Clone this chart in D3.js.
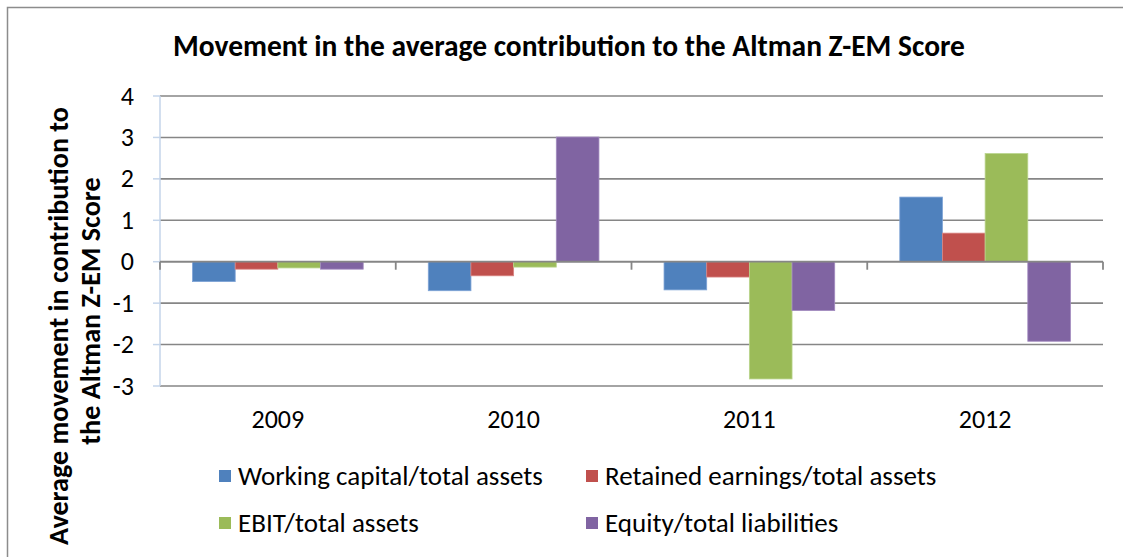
<!DOCTYPE html>
<html>
<head>
<meta charset="utf-8">
<script src="https://cdn.jsdelivr.net/npm/d3@7"></script>
<style>
  body { margin: 0; background: #fff; }
  text { font-family: Carlito, Calibri, Lato, sans-serif; fill: #000; }
</style>
</head>
<body>
<div id="chart"></div>
<script>
// data
const years = ["2009", "2010", "2011", "2012"];
const seriesNames = ["Working capital/total assets", "Retained earnings/total assets", "EBIT/total assets", "Equity/total liabilities"];
const workingCapital = [-0.48, -0.70, -0.68, 1.56];
const retainedEarnings = [-0.18, -0.34, -0.37, 0.69];
const ebit = [-0.15, -0.13, -2.83, 2.61];
const equity = [-0.18, 3.01, -1.18, -1.92];
const yTicks = [-3, -2, -1, 0, 1, 2, 3, 4];
const colors = ["#4F81BD", "#C0504D", "#9BBB59", "#8064A2"];
const strokes = ["#7ea3d6", "#d98583", "#b9d48c", "#a38cc0"];

const allSeries = [workingCapital, retainedEarnings, ebit, equity];

// scale the text so it spans about the same width as the original
function fitWidth(sel, w) {
    const len = sel.node().getComputedTextLength();
    const fs = parseFloat(sel.style("font-size"));
    sel.style("font-size", (fs * w / len) + "px");
    return fs * w / len;
}

const W = 1123, H = 557;
const svg = d3.select("#chart").append("svg")
    .attr("width", W).attr("height", H);

// chart frame
svg.append("rect")
    .attr("x", 7.5).attr("y", 7.5)
    .attr("width", 1200).attr("height", 600)
    .attr("fill", "#fff")
    .attr("stroke", "#8c8c8c")
    .attr("stroke-width", 1.5);

const plot = { left: 160, right: 1103, top: 96, bottom: 386 };

// scales
const x0 = d3.scaleBand().domain(years).range([plot.left, plot.right]).padding(0);
const bw = x0.bandwidth();
const gap = bw * 0.276;
const x1 = d3.scaleBand().domain(d3.range(seriesNames.length)).range([gap / 2, bw - gap / 2]).padding(0);
const y = d3.scaleLinear().domain([-3, 4]).range([plot.bottom, plot.top]);

// gridlines
svg.append("g")
    .selectAll("line")
    .data(yTicks)
    .enter().append("line")
    .attr("x1", plot.left).attr("x2", plot.right)
    .attr("y1", d => y(d)).attr("y2", d => y(d))
    .attr("stroke", "#868686")
    .attr("stroke-width", 1.6);

// y axis (light line with ticks pointing left)
svg.append("line")
    .attr("x1", plot.left).attr("x2", plot.left)
    .attr("y1", plot.top).attr("y2", plot.bottom)
    .attr("stroke", "#c5d5ea").attr("stroke-width", 1.5);
svg.append("g")
    .selectAll("line")
    .data(yTicks)
    .enter().append("line")
    .attr("x1", plot.left - 7).attr("x2", plot.left)
    .attr("y1", d => y(d)).attr("y2", d => y(d))
    .attr("stroke", "#c5d5ea").attr("stroke-width", 1.5);

// y tick labels
svg.append("g")
    .selectAll("text")
    .data(yTicks)
    .enter().append("text")
    .attr("x", 134)
    .attr("y", d => y(d))
    .attr("dy", "0.33em")
    .attr("text-anchor", "end")
    .style("font-size", "26px")
    .text(d => d);

// bars
const groups = svg.append("g")
    .selectAll("g")
    .data(years)
    .enter().append("g")
    .attr("transform", d => "translate(" + x0(d) + ",0)");

groups.selectAll("rect")
    .data((d, i) => allSeries.map((s, k) => ({ k: k, v: s[i] })))
    .enter().append("rect")
    .attr("x", d => x1(d.k))
    .attr("width", x1.bandwidth())
    .attr("y", d => y(Math.max(0, d.v)))
    .attr("height", d => Math.abs(y(d.v) - y(0)))
    .attr("fill", d => colors[d.k])
    .attr("stroke", d => strokes[d.k])
    .attr("stroke-width", 0.8);

// zero axis on top of the bars, with category ticks
svg.append("line")
    .attr("x1", plot.left).attr("x2", plot.right)
    .attr("y1", y(0)).attr("y2", y(0))
    .attr("stroke", "#868686").attr("stroke-width", 1.8);
const boundaries = years.map(d => x0(d)).concat([plot.right]);
svg.append("g")
    .selectAll("line")
    .data(boundaries)
    .enter().append("line")
    .attr("x1", d => d).attr("x2", d => d)
    .attr("y1", y(0)).attr("y2", y(0) + 8)
    .attr("stroke", "#868686").attr("stroke-width", 1.8);

// category labels
svg.append("g")
    .selectAll("text")
    .data(years)
    .enter().append("text")
    .attr("x", d => x0(d) + bw / 2)
    .attr("y", 428)
    .attr("text-anchor", "middle")
    .style("font-size", "26px")
    .text(d => d);

// title
const title = svg.append("text")
    .attr("x", 569).attr("y", 56)
    .attr("text-anchor", "middle")
    .style("font-size", "22px")
    .style("font-weight", "bold")
    .text("Movement in the average contribution to the Altman Z-EM Score");
fitWidth(title, 792);

// y axis title, two lines
const yt1 = svg.append("text")
    .attr("transform", "translate(68,326) rotate(-90)")
    .attr("text-anchor", "middle")
    .style("font-size", "22px")
    .style("font-weight", "bold")
    .text("Average movement in contribution to");
const ytSize = fitWidth(yt1, 438);
svg.append("text")
    .attr("transform", "translate(100,311) rotate(-90)")
    .attr("text-anchor", "middle")
    .style("font-size", ytSize + "px")
    .style("font-weight", "bold")
    .text("the Altman Z-EM Score");

// legend
const legendPos = [[219, 476], [586, 476], [219, 523], [586, 523]];
const legend = svg.append("g")
    .selectAll("g")
    .data(seriesNames)
    .enter().append("g")
    .attr("transform", (d, i) => "translate(" + legendPos[i][0] + "," + legendPos[i][1] + ")");
legend.append("rect")
    .attr("x", 0).attr("y", -6)
    .attr("width", 12).attr("height", 12)
    .attr("fill", (d, i) => colors[i]);
const legendText = legend.append("text")
    .attr("x", 19).attr("y", 0)
    .attr("dy", "0.35em")
    .style("font-size", "21px")
    .text(d => d);
const lgSize = fitWidth(d3.select(legendText.nodes()[0]), 305);
legendText.style("font-size", lgSize + "px");
</script>
</body>
</html>
